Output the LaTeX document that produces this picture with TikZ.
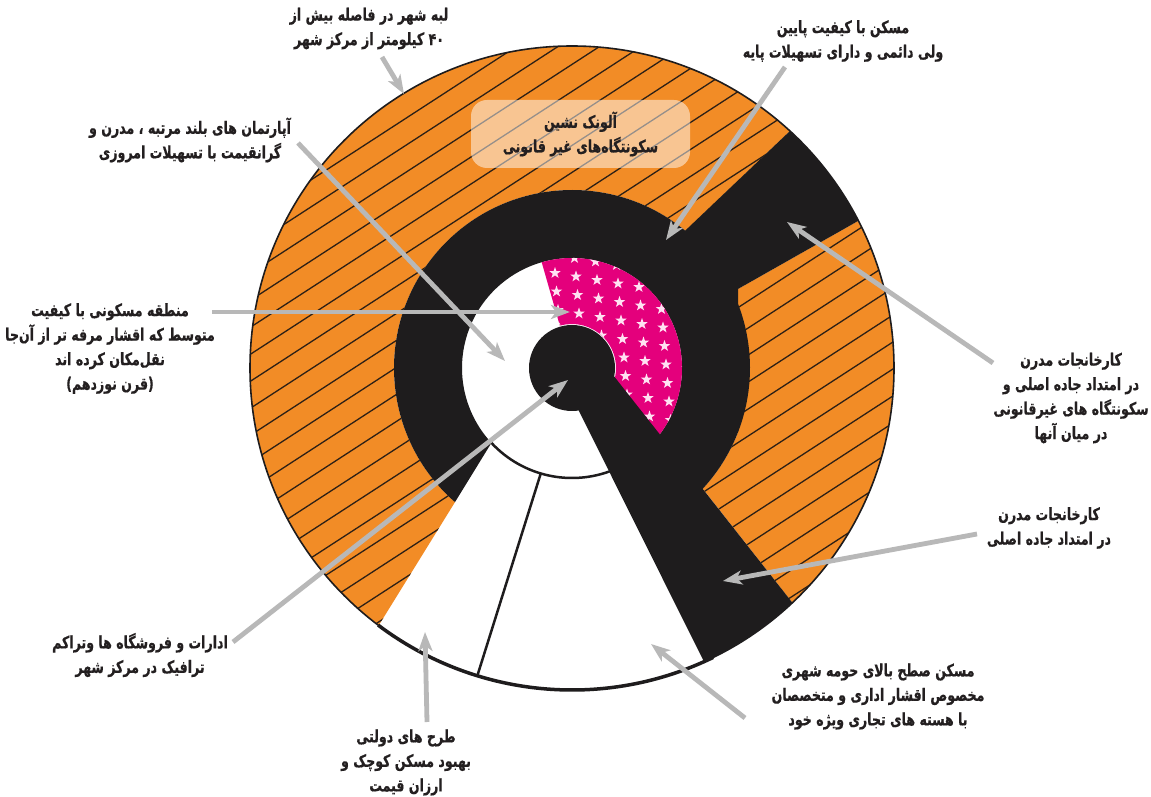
\documentclass[tikz,border=0pt]{standalone}
\usepackage{fontspec}
\usetikzlibrary{arrows.meta,calc}
\TeXXeTstate=1
\newfontfamily\fa[Script=Arabic,FakeStretch=0.74,FakeBold=0.6]{DejaVu Sans}
\newcommand{\faline}[1]{\beginR #1\endR}
\definecolor{orng}{RGB}{242,140,38}
\definecolor{hatchc}{RGB}{45,32,22}
\definecolor{pnk}{RGB}{228,0,124}
\definecolor{blk}{RGB}{30,28,29}
\definecolor{arrg}{RGB}{184,184,184}
\definecolor{txt}{RGB}{35,31,32}
\definecolor{starc}{RGB}{255,225,242}
\begin{document}
\begin{tikzpicture}[x=1pt,y=1pt,
  lbl/.style={font=\fa\bfseries\fontsize{17}{24.5}\selectfont, align=center, text=txt, inner sep=0pt},
  arr/.style={draw=arrg, line width=4.8pt, -{Stealth[length=19pt,width=14pt,inset=5pt]}},
  hatchline/.style={draw=hatchc, line width=1.3pt},
  boxst/.style={rounded corners=16pt, fill=white, fill opacity=0.5, text opacity=1,
     minimum width=219pt, minimum height=68pt, inner sep=0pt},
  ]
\useasboundingbox (0,0) rectangle (1151,796);
\fill[white] (0,0) rectangle (1151,796);
\coordinate (C) at (572,428);
\def\Ro{322}
\def\regA{($(C)+(233.1:\Ro)$) arc[start angle=233.1,end angle=47.4,radius=\Ro] -- ($(C)+(50.4:178)$) arc[start angle=50.4,end angle=228.9,radius=178] -- cycle}
\def\regB{(738,507) -- ($(C)+(27.2:\Ro)$) arc[start angle=27.2,end angle=-46.8,radius=\Ro] -- ($(C)+(-42.7:178)$) arc[start angle=-42.7,end angle=-21.1,radius=178] -- cycle}
\def\regP{($(C)+(106:44)$) -- ($(C)+(106:110)$) arc[start angle=106,end angle=-45,radius=110] -- ($(C)+(-45:44)$) arc[start angle=-45,end angle=106,radius=44] -- cycle}
% orange hatched regions
\fill[orng] \regA;
\fill[orng] \regB;
\begin{scope}
  \clip \regA \regB;
  \foreach \k in {-14,...,28}{
    \draw[hatchline] (200,\k*27+4) -- ++(33:900);
  }
\end{scope}
% black ring
\fill[blk] ($(C)+(228.9:178)$) arc[start angle=228.9,end angle=-50,radius=178] -- ($(C)+(-50:110)$) arc[start angle=-50,end angle=222.9,radius=110] -- cycle;
% pink sector with stars
\fill[pnk] \regP;
\begin{scope}
  \clip \regP;
  \foreach \i in {-1,...,11}{
    \foreach \j in {-1,...,7}{
      \pgfmathsetmacro{\sx}{555+21*\j+1.5*\i}
      \pgfmathsetmacro{\sy}{523-3.5*\j-18.5*\i}
      \fill[starc,shift={(\sx,\sy)}] (90:6) -- (126:2.4) -- (162:6) -- (198:2.4) -- (234:6) -- (270:2.4) -- (306:6) -- (342:2.4) -- (18:6) -- (54:2.4) -- cycle;
    }
  }
\end{scope}
% thin arc and divider in white wedge
\draw[blk, line width=2.5pt] ($(C)+(222.9:110)$) arc[start angle=222.9,end angle=292,radius=110];
\draw[blk, line width=2.5pt] ($(C)+(253.5:110)$) -- ($(C)+(252.9:\Ro)$);
% main road band (lower right)
\fill[blk] (557.5,428) -- (607.5,428) -- ($(C)+(-46.8:\Ro)$) arc[start angle=-46.8,end angle=-65.8,radius=\Ro] -- cycle;
% upper right band
\fill[blk] (657.7,539.2) -- ($(C)+(47.4:\Ro)$) arc[start angle=47.4,end angle=27.2,radius=\Ro] -- (738,507) -- (738,363.9) -- ($(C)+(-21.1:140)$) arc[start angle=-21.1,end angle=52.4,radius=140] -- cycle;
% centre disk
\fill[blk] (C) circle[radius=43];
% outline
\draw[blk, line width=1.6pt] (C) circle[radius=\Ro];
\draw[blk, line width=3.5pt] ($(C)+(233:\Ro)$) arc[start angle=233,end angle=296,radius=\Ro];
% label box
\node[boxst, lbl] (box) at (580.5,662) {\faline{آلونک نشین}\\\faline{سکونتگاه‌های غیر قانونی}};
% labels
\node[lbl] (l1) at (369,767.5) {\faline{لبه شهر در فاصله بیش از}\\\faline{\beginL ۴۰\endL{} کیلومتر از مرکز شهر}};
\node[lbl] (l2) at (190,656) {\faline{آپارتمان های بلند مرتبه ، مدرن و}\\\faline{گرانقیمت با تسهیلات امروزی}};
\node[lbl] (l3) at (843,755) {\faline{مسکن با کیفیت پایین}\\\faline{ولی دائمی و دارای تسهیلات پایه}};
\node[lbl] (l4) at (110,447.5) {\faline{منطقه مسکونی با کیفیت}\\\faline{متوسط که اقشار مرفه تر از آن‌جا}\\\faline{نقل‌مکان کرده اند}\\\faline{(قرن نوزدهم)}};
\node[lbl] (l5) at (1071,398) {\faline{کارخانجات مدرن}\\\faline{در امتداد جاده اصلی و}\\\faline{سکونتگاه های غیرقانونی}\\\faline{در میان آنها}};
\node[lbl] (l6) at (1049,268) {\faline{کارخانجات مدرن}\\\faline{در امتداد جاده اصلی}};
\node[lbl] (l7) at (140,141) {\faline{ادارات و فروشگاه ها وتراکم}\\\faline{ترافیک در مرکز شهر}};
\node[lbl] (l8) at (406,33.5) {\faline{طرح های دولتی}\\\faline{بهبود مسکن کوچک و}\\\faline{ارزان قیمت}};
\node[lbl] (l9) at (878,99.5) {\faline{مسکن صطح بالای حومه شهری}\\\faline{مخصوص اقشار اداری و متخصصان}\\\faline{با هسته های تجاری ویژه خود}};
% arrow endpoints
\coordinate (a1s) at (382,739); \coordinate (a1e) at (404,702);
\coordinate (a2s) at (298,653); \coordinate (a2e) at (505,435);
\coordinate (a3s) at (785,729); \coordinate (a3e) at (666,556);
\coordinate (a4s) at (212,484); \coordinate (a4e) at (570,484);
\coordinate (a5s) at (993,433); \coordinate (a5e) at (787,574);
\coordinate (a6s) at (977,262); \coordinate (a6e) at (723,215);
\coordinate (a7s) at (233,154); \coordinate (a7e) at (568,416);
\coordinate (a8s) at (427,74);  \coordinate (a8e) at (425,164);
\coordinate (a9s) at (745,78);  \coordinate (a9e) at (651,152);
\foreach \n in {1,...,9}{\draw[arr] (a\n s) -- (a\n e);}
\end{tikzpicture}
\end{document}
